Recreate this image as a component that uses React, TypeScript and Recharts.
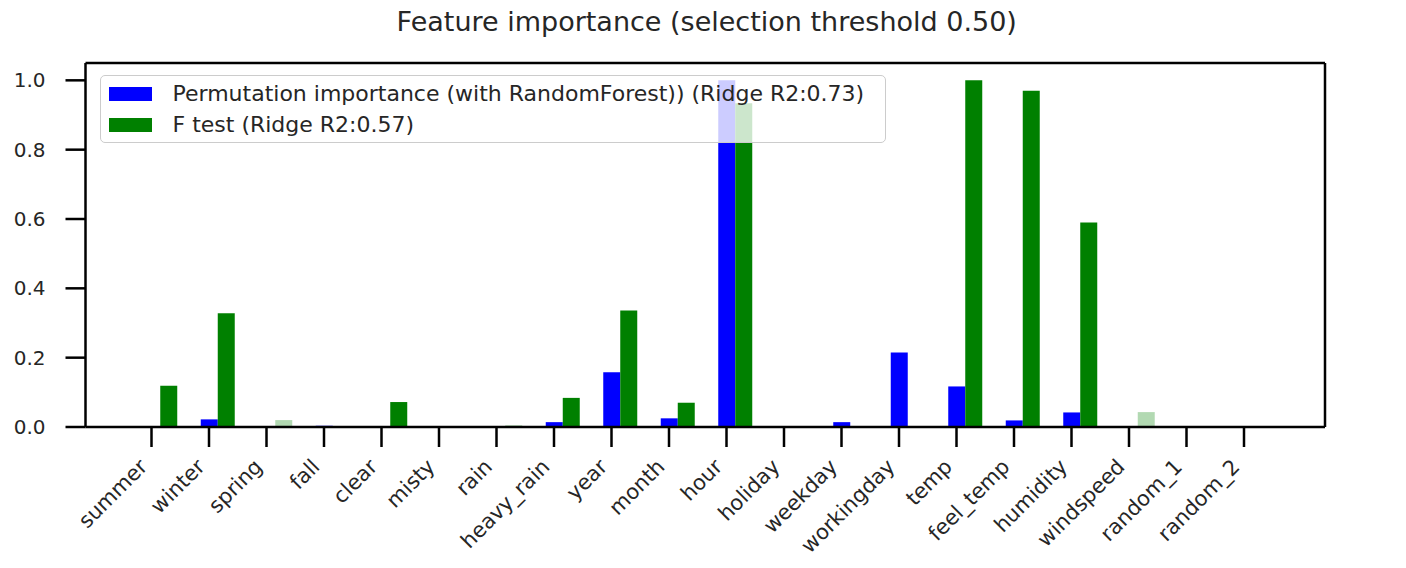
import React from 'react';
import { BarChart, Bar, XAxis, YAxis, Legend, Cell, ReferenceLine } from 'recharts';

const features = [
  'summer', 'winter', 'spring', 'fall', 'clear', 'misty', 'rain', 'heavy_rain', 'year', 'month',
  'hour', 'holiday', 'weekday', 'workingday', 'temp', 'feel_temp', 'humidity', 'windspeed', 'random_1', 'random_2',
];
const permImportance = [0, 0.022, 0, 0.005, 0, 0, 0, 0.014, 0.158, 0.025, 1.0, 0, 0.014, 0.215, 0.117, 0.019, 0.042, 0, 0, 0];
const fTest = [0.119, 0.328, 0.02, 0, 0.072, 0, 0.005, 0.084, 0.336, 0.07, 0.934, 0, 0, 0, 1.0, 0.97, 0.59, 0.043, 0, 0];
const fadedPerm = ['fall'];
const fadedF = ['spring', 'rain', 'windspeed'];
const yTicks = [0, 0.2, 0.4, 0.6, 0.8, 1.0];
const seriesNames = ['Permutation importance (with RandomForest)) (Ridge R2:0.73)', 'F test (Ridge R2:0.57)'];
const title = 'Feature importance (selection threshold 0.50)';

const data = features.map((name, i) => ({ name, perm: permImportance[i], f: fTest[i] }));

const FONT = '"DejaVu Sans", sans-serif';
const TEXT = '#262626';
const line = () => ({ stroke: '#000', strokeWidth: 2.5 });

// rotated category labels, right end hooked under the tick
const XTick = (props: any) => {
  const { x, y, payload } = props;
  return (
    <g transform={`translate(${x - 3},${y + 21}) rotate(-45)`}>
      <text x={0} y={0} textAnchor="end" fontFamily={FONT} fontSize={21} fill={TEXT}>
        {payload.value}
      </text>
    </g>
  );
};

const renderLegend = (props: any) => {
  const items = [...(props.payload || [])].sort(
    (a: any, b: any) => seriesNames.indexOf(a.value) - seriesNames.indexOf(b.value)
  );
  return (
    <div style={{
      boxSizing: 'border-box', width: 786, height: 68, padding: '2px 0 0 8px',
      border: '1.5px solid #cccccc', borderRadius: 5, background: 'rgba(255,255,255,0.8)',
      fontFamily: FONT, fontSize: 22, color: TEXT,
    }}>
      {items.map((it: any) => (
        <div key={it.value} style={{ display: 'flex', alignItems: 'center', height: 31 }}>
          <span style={{ display: 'inline-block', width: 43, height: 14, background: it.color, marginRight: 21 }} />
          <span style={{ whiteSpace: 'nowrap' }}>{it.value}</span>
        </div>
      ))}
    </div>
  );
};

export default function App() {
  return (
    <div style={{ position: 'relative', width: 1398, height: 552, background: '#fff' }}>
      <div style={{
        position: 'absolute', left: 77.5, width: 1239.5, top: -2, textAlign: 'center',
        fontFamily: FONT, fontSize: 27, color: TEXT, paddingLeft: 3, boxSizing: 'border-box',
      }}>
        {title}
      </div>
      <BarChart width={1398} height={552} data={data} margin={{ top: 55, right: 0, bottom: 0, left: 0 }}>
        <XAxis xAxisId="main" dataKey="name" interval={0} height={133}
          padding={{ left: 37.25, right: 52.25 }} tickSize={20} tickMargin={0}
          axisLine={line()} tickLine={line()} tick={(p: any) => <XTick {...p} />} />
        <XAxis xAxisId="blue" dataKey="name" hide height={0} padding={{ left: 37.75, right: 51.75 }} />
        <XAxis xAxisId="green" dataKey="name" hide height={0} padding={{ left: 54.75, right: 34.75 }} />
        <YAxis yAxisId="left" domain={[0, 1.05]} ticks={yTicks} width={77.5} tickSize={20} tickMargin={20}
          axisLine={line()} tickLine={line()} tickFormatter={(v: number) => v.toFixed(1)}
          tick={{ fontFamily: FONT, fontSize: 20, fill: TEXT }} />
        <YAxis yAxisId="right" orientation="right" domain={[0, 1.05]} ticks={yTicks} width={81} tickSize={20} tickMargin={20}
          axisLine={line()} tickLine={line()} tickFormatter={(v: number) => v.toFixed(1)}
          tick={{ fontFamily: FONT, fontSize: 20, fill: TEXT }} />
        <ReferenceLine yAxisId="left" xAxisId="main" y={1.05} stroke="#000" strokeWidth={2.5} ifOverflow="visible" />
        <Bar xAxisId="blue" yAxisId="left" dataKey="perm" name={seriesNames[0]} fill="#0000ff"
          barSize={17} isAnimationActive={false}>
          {data.map((d) => (
            <Cell key={d.name} fillOpacity={fadedPerm.includes(d.name) ? 0.3 : 1} />
          ))}
        </Bar>
        <Bar xAxisId="green" yAxisId="left" dataKey="f" name={seriesNames[1]} fill="#008000"
          barSize={17} isAnimationActive={false}>
          {data.map((d) => (
            <Cell key={d.name} fillOpacity={fadedF.includes(d.name) ? 0.3 : 1} />
          ))}
        </Bar>
        <Legend layout="vertical" align="center" verticalAlign="middle" content={renderLegend}
          wrapperStyle={{ top: 67, left: 91.5, width: 786 }} />
      </BarChart>
    </div>
  );
}
